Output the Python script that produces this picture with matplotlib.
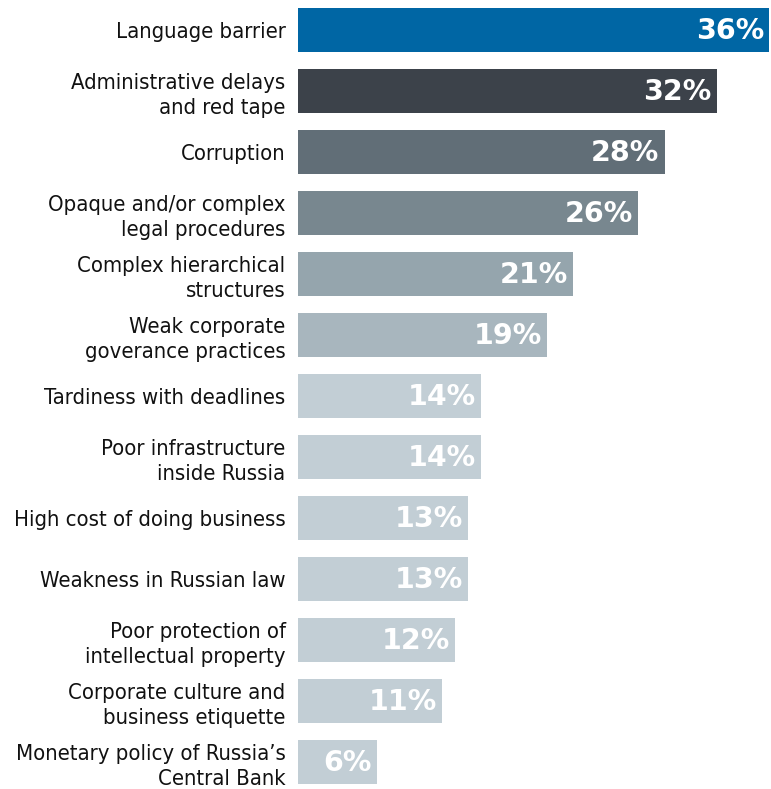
import matplotlib.pyplot as plt

labels = [
    "Language barrier",
    "Administrative delays\nand red tape",
    "Corruption",
    "Opaque and/or complex\nlegal procedures",
    "Complex hierarchical\nstructures",
    "Weak corporate\ngoverance practices",
    "Tardiness with deadlines",
    "Poor infrastructure\ninside Russia",
    "High cost of doing business",
    "Weakness in Russian law",
    "Poor protection of\nintellectual property",
    "Corporate culture and\nbusiness etiquette",
    "Monetary policy of Russia\u2019s\nCentral Bank",
]
values = [36, 32, 28, 26, 21, 19, 14, 14, 13, 13, 12, 11, 6]
colors = ["#0066a4", "#3c424a", "#616e77", "#78878f", "#95a5ad", "#a8b6be"] + ["#c2ced5"] * 7

fig = plt.figure(figsize=(7.71, 7.89), dpi=100)
ax = fig.add_axes([298 / 771, 0, 472 / 771, 1])

ypos = list(range(len(values)))
ax.barh(ypos, values, height=0.72, color=colors)
ax.set_xlim(0, 36.05)
ax.set_ylim((789 - 30) / 61, -30 / 61)

for y, v in zip(ypos, values):
    ax.text(v - 0.4, y + 0.02, f"{v}%", ha="right", va="center", color="white",
            fontsize=20.5, fontweight="bold", family="DejaVu Sans")

ax.set_yticks(ypos)
ax.set_yticklabels(labels, fontsize=15.8, family="DejaVu Sans", stretch="condensed",
                   linespacing=1.3, ha="right", color="#111111")
ax.tick_params(axis="y", length=0, pad=9)
ax.set_xticks([])
for s in ax.spines.values():
    s.set_visible(False)

fig.savefig("out.png", dpi=100)
